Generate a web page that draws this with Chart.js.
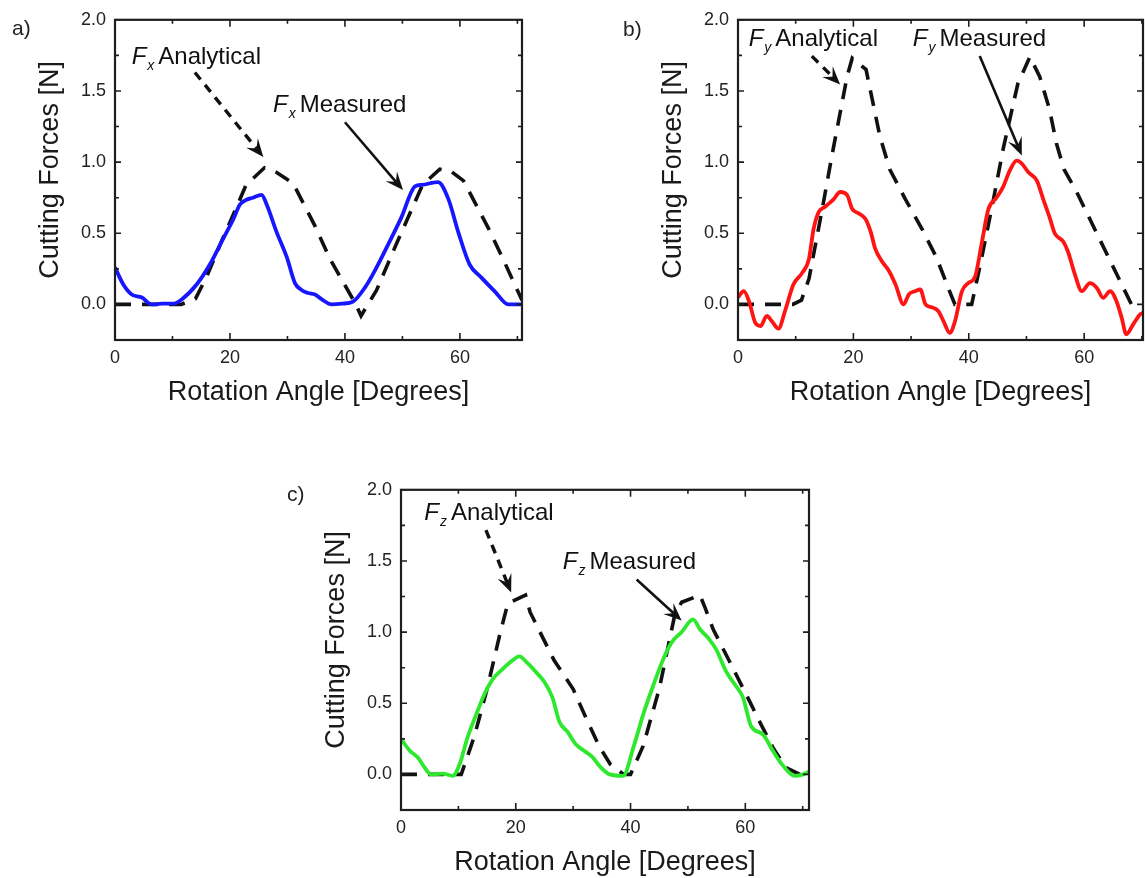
<!DOCTYPE html>
<html>
<head>
<meta charset="utf-8">
<script src="https://cdn.jsdelivr.net/npm/chart.js@4.4.1/dist/chart.umd.min.js"></script>
<style>
  html, body { margin: 0; padding: 0; background: #fff; }
  #page { position: relative; width: 1145px; height: 878px; overflow: hidden; background: #fff; }
  .panel { position: absolute; }
</style>
</head>
<body>
<div id="page">
  <canvas id="chartA" class="panel" width="540" height="420" style="left:0;top:0"></canvas>
  <canvas id="chartB" class="panel" width="545" height="420" style="left:600px;top:0"></canvas>
  <canvas id="chartC" class="panel" width="560" height="408" style="left:280px;top:470px"></canvas>
</div>
<script>
// ---- data (angle in degrees, force in N) ----
const fxMeasAngle = [0,1.45,2.9,4.6,6.4,8.2,10.1,11.6,14.2,16.5,18.8,20.6,21.7,22.6,24,25.5,26.4,28.1,29.9,31.3,32.5,33.6,34.8,35.8,37.7,39.5,41.4,43.5,45.5,47.5,49.8,52.2,53.4,56.2,58,59.7,61.7,63.7,66.1,68.4,70.8];
const fxMeasForce = [0.26,0.14,0.07,0.05,0,0.005,0.005,0.035,0.14,0.28,0.46,0.6,0.7,0.73,0.75,0.77,0.7,0.51,0.33,0.15,0.1,0.08,0.07,0.04,0,0.005,0.02,0.12,0.26,0.42,0.61,0.83,0.84,0.86,0.74,0.51,0.28,0.19,0.09,0,0];
const fxAnaAngle = [0,11.5,14,16,18.5,21,22.8,26,28,31,34.8,37.4,41.9,42.8,45.5,49,53.5,56.5,58.3,60.6,64.9,67.5,70.1,70.8];
const fxAnaForce = [0,0,0.04,0.2,0.44,0.67,0.84,0.96,0.93,0.85,0.55,0.32,0,-0.08,0.1,0.43,0.84,0.95,0.94,0.87,0.54,0.32,0.09,0.03];

const fyMeasAngle = [0,1,1.9,3,3.9,5,5.9,7,8.2,9.6,11.1,12.3,13.1,14,15.1,16.6,17.7,18.9,19.8,20.9,22.1,23,23.8,25,26.1,27.3,28.7,29.6,30.7,31.6,32.5,33.6,34.7,35.6,36.7,37.6,38.8,39.9,41.1,42.2,43.4,44.8,46,47.1,48.3,49.2,50.3,51.8,52.9,54.1,54.9,56.4,57.2,58.4,59.6,61,62.2,63.3,64.5,65.6,66.5,67.3,68.5,69.7,70.2];
const fyMeasForce = [0.05,0.093,0.023,-0.13,-0.152,-0.08,-0.12,-0.17,-0.04,0.14,0.22,0.32,0.53,0.65,0.686,0.74,0.79,0.77,0.67,0.64,0.6,0.51,0.39,0.3,0.24,0.14,0,0.07,0.093,0.105,0,-0.02,-0.046,-0.116,-0.2,-0.12,0.09,0.15,0.195,0.42,0.67,0.75,0.83,0.94,1.01,0.99,0.93,0.87,0.74,0.6,0.5,0.44,0.37,0.21,0.093,0.15,0.116,0.046,0.093,0.023,-0.093,-0.21,-0.14,-0.07,-0.06];
const fyAnaAngle = [0,9.5,11,12.3,14.6,16.3,18.9,19.8,22.2,24.6,26.3,29,31.9,34.4,36.7,37.6,40.5,42,44,46,48.5,50.6,52.3,54,55.2,56.5,58.7,68.2,70.2];
const fyAnaForce = [0,0,0.03,0.18,0.67,1.05,1.6,1.73,1.65,1.18,0.95,0.74,0.53,0.33,0.09,0,0,0.28,0.68,1.1,1.55,1.74,1.6,1.37,1.13,0.95,0.79,0,0];

const fzMeasAngle = [0,1.45,2.9,4.1,5.2,7.3,9,10.2,11.6,13.1,14.5,16,17.7,19.4,20.6,22.1,23.5,25,26.4,27.6,29,30.5,31.9,33.4,34.8,36.4,38.7,40.5,42.2,44,45.7,47.2,48.9,50.9,52.1,53.5,54.9,56.7,58.2,59.6,61,63.1,64.8,66.6,68.6,70.1,71.1];
const fzMeasForce = [0.25,0.17,0.12,0.05,0,0.005,-0.01,0.07,0.26,0.42,0.56,0.67,0.74,0.8,0.83,0.78,0.72,0.65,0.54,0.37,0.3,0.21,0.167,0.12,0.05,0,-0.01,0.19,0.42,0.63,0.81,0.93,1,1.09,1.02,0.96,0.88,0.72,0.63,0.54,0.34,0.28,0.167,0.06,-0.01,0,0.02];
const fzAnaAngle = [0,10.5,12.8,15,17.2,18.6,21.7,22.5,26.7,30,32.2,34.5,36.5,38.8,40,42.2,45,47.7,48.9,52.1,53,54.4,57.3,60.8,62.5,64.8,67,69.5,71.1];
const fzAnaForce = [0,0,0.27,0.6,0.98,1.2,1.26,1.14,0.8,0.6,0.4,0.2,0.07,0,0,0.2,0.6,1.12,1.21,1.26,1.17,1.02,0.79,0.51,0.37,0.19,0.05,0,0];

// axis ticks
const xTickValues = [0, 20, 40, 60];
const xMinorTicks = [10, 30, 50, 70];
const yTickValues = [0, 0.5, 1.0, 1.5, 2.0];
const yMinorTicks = [0.25, 0.75, 1.25, 1.75];
const yMin = -0.25, yMax = 2.0;

const xTitle = "Rotation Angle [Degrees]";
const yTitle = "Cutting Forces [N]";
const fontFamily = '"Liberation Sans", Arial, Helvetica, sans-serif';

// ---- panel setup ----
const panels = [
    {
        id: "chartA", tag: "a)", sub: "x", color: "#1616ff", xMax: 70.8,
        meas: [fxMeasAngle, fxMeasForce], ana: [fxAnaAngle, fxAnaForce],
        yWidth: 115, xHeight: 80, padRight: 18, tagPos: [12, 29],
        labels: [["Analytical", 2.9, 1.687], ["Measured", 27.5, 1.35]],
        arrows: [[13.9, 1.63, 25.8, 1.036, true], [40.0, 1.28, 50.1, 0.804, false]],
    },
    {
        id: "chartB", tag: "b)", sub: "y", color: "#ff1414", xMax: 70.2,
        meas: [fyMeasAngle, fyMeasForce], ana: [fyAnaAngle, fyAnaForce],
        yWidth: 138, xHeight: 80, padRight: 2, tagPos: [23, 30],
        labels: [["Analytical", 1.85, 1.815], ["Measured", 30.3, 1.815]],
        arrows: [[12.8, 1.745, 17.7, 1.546, true], [41.9, 1.745, 49.2, 1.047, false]],
    },
    {
        id: "chartC", tag: "c)", sub: "z", color: "#2ee82e", xMax: 71.1,
        meas: [fzMeasAngle, fzMeasForce], ana: [fzAnaAngle, fzAnaForce],
        yWidth: 121, xHeight: 68, padRight: 31, tagPos: [7, 25],
        labels: [["Analytical", 4.06, 1.787], ["Measured", 28.2, 1.44]],
        arrows: [[14.8, 1.717, 19.2, 1.278, true], [41.06, 1.37, 48.9, 1.081, false]],
    },
];

function toPoints(xs, ys) {
    return xs.map((x, i) => ({x: x, y: ys[i]}));
}

function drawArrow(ctx, x1, y1, x2, y2, dashed) {
    const ang = Math.atan2(y2 - y1, x2 - x1);
    const c = Math.cos(ang), s = Math.sin(ang);
    const len = 18, half = 7.5;
    ctx.setLineDash(dashed ? [9, 7] : []);
    ctx.lineWidth = dashed ? 3.4 : 2.6;
    ctx.beginPath();
    ctx.moveTo(x1, y1);
    ctx.lineTo(x2 - c * len * 0.6, y2 - s * len * 0.6);
    ctx.stroke();
    ctx.setLineDash([]);
    ctx.beginPath();
    ctx.moveTo(x2, y2);
    ctx.lineTo(x2 - c * len + s * half, y2 - s * len - c * half);
    ctx.lineTo(x2 - c * len * 0.6, y2 - s * len * 0.6);
    ctx.lineTo(x2 - c * len - s * half, y2 - s * len + c * half);
    ctx.closePath();
    ctx.fill();
}

// frame with inward ticks, arrows, labels, titles
function makeDeco(p) {
    return {
        id: "deco",
        afterDatasetsDraw(chart) {
            const {ctx, chartArea: area} = chart;
            const xs = chart.scales.x, ys = chart.scales.y;
            ctx.save();

            ctx.strokeStyle = "#1e1e1e";
            ctx.setLineDash([]);
            ctx.lineWidth = 2.2;
            ctx.strokeRect(area.left, area.top, area.right - area.left, area.bottom - area.top);

            ctx.lineWidth = 1.6;
            const xTick = (v, l) => {
                const px = xs.getPixelForValue(v);
                ctx.beginPath();
                ctx.moveTo(px, area.bottom); ctx.lineTo(px, area.bottom - l);
                ctx.moveTo(px, area.top); ctx.lineTo(px, area.top + l);
                ctx.stroke();
            };
            const yTick = (v, l) => {
                const py = ys.getPixelForValue(v);
                ctx.beginPath();
                ctx.moveTo(area.left, py); ctx.lineTo(area.left + l, py);
                ctx.moveTo(area.right, py); ctx.lineTo(area.right - l, py);
                ctx.stroke();
            };
            xTickValues.forEach(v => xTick(v, 7));
            xMinorTicks.forEach(v => { if (v < p.xMax) xTick(v, 4); });
            yTickValues.forEach(v => yTick(v, 6));
            yMinorTicks.forEach(v => yTick(v, 4));

            // arrows
            ctx.strokeStyle = "#111";
            ctx.fillStyle = "#111";
            p.arrows.forEach(a => {
                drawArrow(ctx, xs.getPixelForValue(a[0]), ys.getPixelForValue(a[1]),
                    xs.getPixelForValue(a[2]), ys.getPixelForValue(a[3]), a[4]);
            });

            // F_sub labels
            ctx.textBaseline = "alphabetic";
            ctx.textAlign = "left";
            p.labels.forEach(l => {
                let px = xs.getPixelForValue(l[1]);
                const py = ys.getPixelForValue(l[2]);
                ctx.font = "italic 24px " + fontFamily;
                ctx.fillText("F", px, py);
                px += ctx.measureText("F").width + 1;
                ctx.font = "italic 14px " + fontFamily;
                ctx.fillText(p.sub, px, py + 6);
                px += ctx.measureText(p.sub).width + 4;
                ctx.font = "24px " + fontFamily;
                ctx.fillText(l[0], px, py);
            });

            // axis titles and panel tag
            ctx.fillStyle = "#1a1a1a";
            ctx.font = "27px " + fontFamily;
            ctx.textAlign = "center";
            ctx.textBaseline = "middle";
            ctx.fillText(xTitle, (area.left + area.right) / 2, area.bottom + 53);
            ctx.save();
            ctx.translate(area.left - 64, (area.top + area.bottom) / 2 - 10);
            ctx.rotate(-Math.PI / 2);
            ctx.fillText(yTitle, 0, 0);
            ctx.restore();
            ctx.textAlign = "left";
            ctx.font = "21px " + fontFamily;
            ctx.fillStyle = "#222";
            ctx.fillText(p.tag, p.tagPos[0], p.tagPos[1]);

            ctx.restore();
        },
    };
}

panels.forEach(p => {
    new Chart(document.getElementById(p.id), {
        type: "line",
        data: {
            datasets: [
                {
                    label: "F" + p.sub + " Measured",
                    data: toPoints(p.meas[0], p.meas[1]),
                    borderColor: p.color,
                    borderWidth: 3.8,
                    pointRadius: 0,
                    cubicInterpolationMode: "monotone",
                },
                {
                    label: "F" + p.sub + " Analytical",
                    data: toPoints(p.ana[0], p.ana[1]),
                    borderColor: "#111",
                    borderWidth: 3.6,
                    borderDash: [16, 11],
                    pointRadius: 0,
                    tension: 0,
                },
            ],
        },
        options: {
            responsive: false,
            animation: false,
            layout: {padding: {left: 0, top: 16, right: p.padRight, bottom: 0}},
            plugins: {legend: {display: false}, tooltip: {enabled: false}},
            scales: {
                x: {
                    type: "linear",
                    min: 0,
                    max: p.xMax,
                    grid: {display: false, drawTicks: false},
                    border: {display: false},
                    afterBuildTicks: s => { s.ticks = xTickValues.map(v => ({value: v})); },
                    afterFit: s => { s.height = p.xHeight; },
                    ticks: {
                        padding: 7,
                        color: "#222",
                        font: {family: fontFamily, size: 18},
                        callback: v => String(v),
                    },
                },
                y: {
                    type: "linear",
                    min: yMin,
                    max: yMax,
                    grid: {display: false, drawTicks: false},
                    border: {display: false},
                    afterBuildTicks: s => { s.ticks = yTickValues.map(v => ({value: v})); },
                    afterFit: s => { s.width = p.yWidth; },
                    ticks: {
                        padding: 9,
                        color: "#222",
                        font: {family: fontFamily, size: 18},
                        callback: v => Number(v).toFixed(1),
                    },
                },
            },
        },
        plugins: [makeDeco(p)],
    });
});
</script>
</body>
</html>
